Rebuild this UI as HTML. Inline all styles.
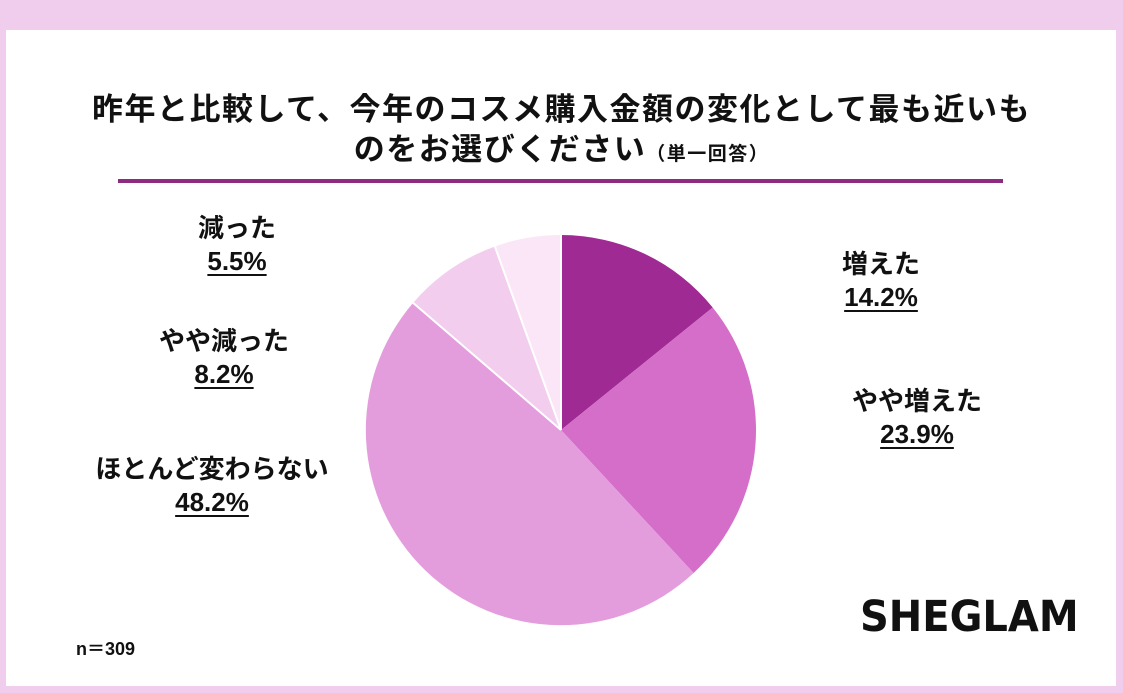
<!DOCTYPE html>
<html><head><meta charset="utf-8"><style>
body{margin:0;width:1123px;height:693px;background:#f0cdec;position:relative;overflow:hidden;font-family:"Liberation Sans","Noto Sans CJK JP",sans-serif;font-weight:bold;color:#111}
.in{position:absolute;left:6px;top:30px;width:1110px;height:656px;background:#fff}
.t{position:absolute;left:0;width:1123px;text-align:center;font-size:31px;letter-spacing:1.5px}
.l{position:absolute;font-size:26px;text-align:center;line-height:33px;transform:translateX(-50%);white-space:nowrap}
.l u{text-underline-offset:4px;text-decoration-thickness:2px}
</style></head><body>
<div class="in"></div>
<div class="t" style="top:84px">昨年と比較して、今年のコスメ購入金額の変化として最も近いも</div>
<div class="t" style="top:124px">のをお選びください<span style="font-size:19px">（単一回答）</span></div>
<div style="position:absolute;left:118px;top:179px;width:885px;height:4px;background:#8e2a7f"></div>
<svg style="position:absolute;left:0;top:0" width="1123" height="693">
<path d="M561 430 L561 235 A195 195 0 0 1 712.7 307.5Z" fill="#a02a93"/>
<path d="M561 430 L712.7 307.5 A195 195 0 0 1 693.6 573Z" fill="#d46ec9"/>
<path d="M561 430 L693.6 573 A195 195 0 0 1 413.1 302.9Z" fill="#e39ddd"/>
<path d="M561 430 L413.1 302.9 A195 195 0 0 1 494.9 246.5Z" fill="#f2cdee"/>
<path d="M561 430 L494.9 246.5 A195 195 0 0 1 561 235Z" fill="#fae6f7"/>
<g stroke="#fff" stroke-width="2"><line x1="561" y1="430" x2="413.1" y2="302.9"/><line x1="561" y1="430" x2="494.9" y2="246.5"/><line x1="561" y1="430" x2="561" y2="235"/></g>
</svg>
<div class="l" style="left:237px;top:212px">減った<br><u>5.5%</u></div>
<div class="l" style="left:224px;top:325px">やや減った<br><u>8.2%</u></div>
<div class="l" style="left:212px;top:453px">ほとんど変わらない<br><u>48.2%</u></div>
<div class="l" style="left:881px;top:248px">増えた<br><u>14.2%</u></div>
<div class="l" style="left:917px;top:385px">やや増えた<br><u>23.9%</u></div>
<div style="position:absolute;left:76px;top:635px;font-size:18px">n＝309</div>
<div style="position:absolute;left:860px;top:592px;font-size:43px;font-weight:900;letter-spacing:0px;font-family:'DejaVu Sans','Liberation Sans',sans-serif;transform:scaleX(0.93);transform-origin:left">SHEGLAM</div>
</body></html>
